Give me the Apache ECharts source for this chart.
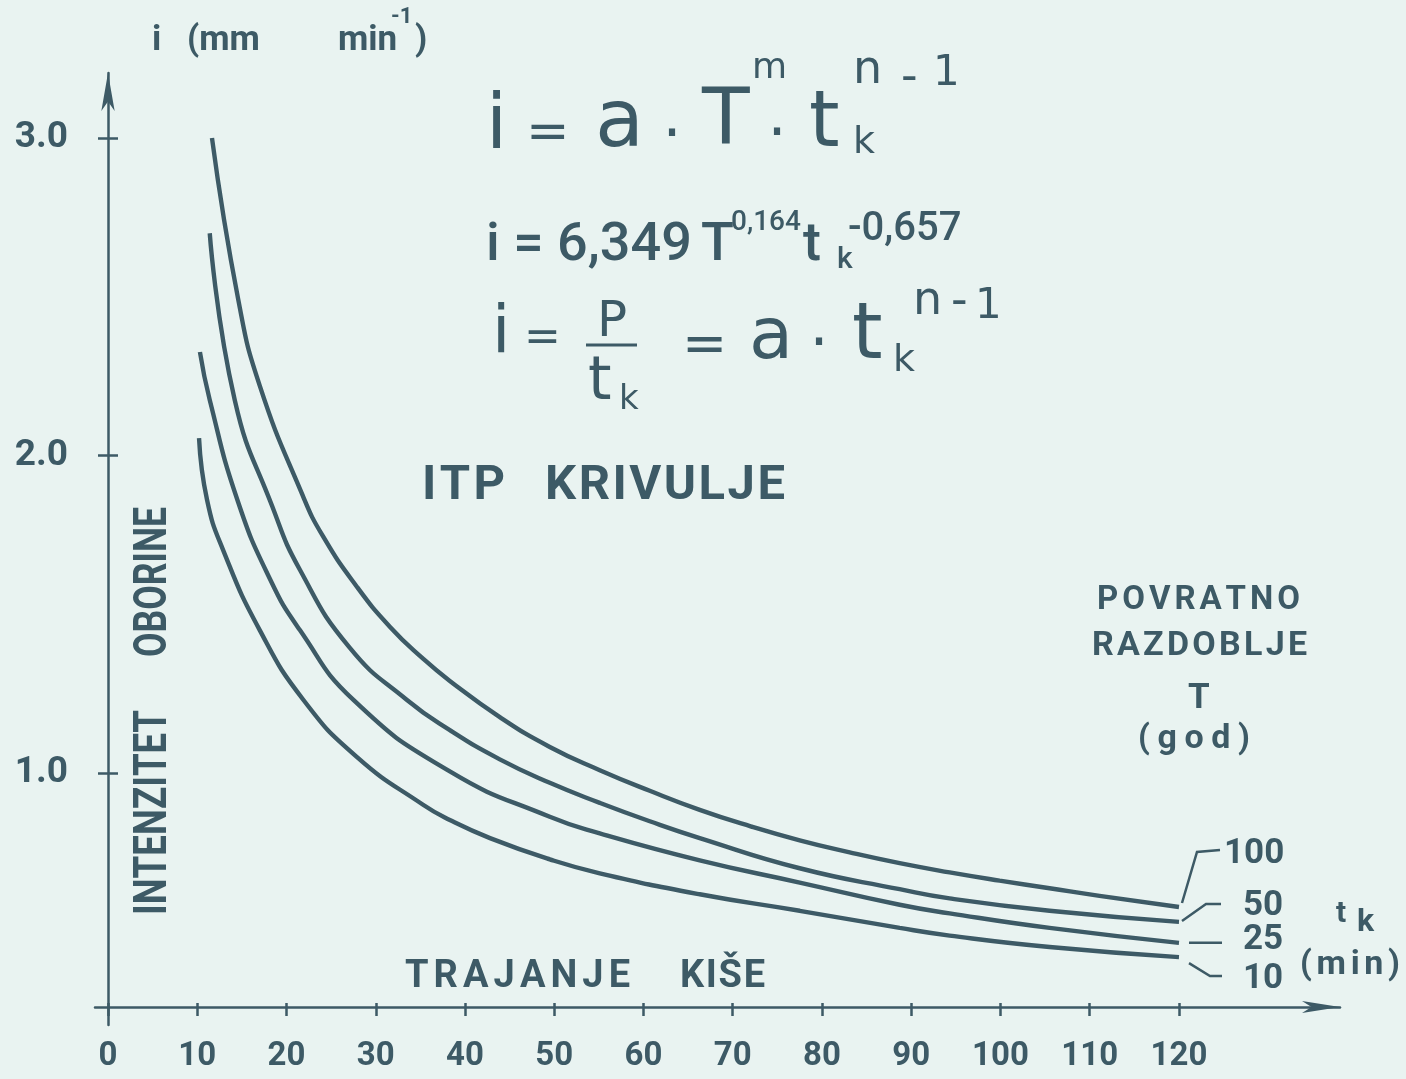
<!DOCTYPE html>
<html><head><meta charset="utf-8">
<script src="https://cdn.jsdelivr.net/npm/echarts@6/dist/echarts.min.js"></script>
<style>html,body{margin:0;padding:0;background:#e9f3f1}#c{width:1406px;height:1079px}</style>
</head><body><div id="c"></div><script>
// ---- data ----
const returnPeriods = ['100', '50', '25', '10'];
const dur100 = [11.65, 14.6, 17.0, 21.8, 24.1, 27.9, 31.6, 35.3, 38.3, 43.9, 49.5, 55.1, 60.7, 66.3, 72.0, 77.5, 83.1, 88.7, 94.3, 99.9, 105.5, 111.1, 120];
const int100 = [3.00, 2.49, 2.22, 1.875, 1.745, 1.586, 1.46, 1.36, 1.29, 1.176, 1.082, 1.009, 0.944, 0.884, 0.832, 0.788, 0.750, 0.716, 0.687, 0.661, 0.637, 0.613, 0.578];
const dur50 = [11.4, 14.2, 18.4, 21.5, 27.1, 33.5, 38.3, 43.9, 49.5, 55.1, 60.7, 66.3, 77.5, 88.7, 94.3, 105.5, 120];
const int50 = [2.70, 2.175, 1.84, 1.64, 1.394, 1.23, 1.135, 1.043, 0.969, 0.906, 0.848, 0.795, 0.70, 0.634, 0.605, 0.566, 0.531];
const dur25 = [10.3, 11.4, 14.5, 18.2, 21.5, 27.5, 38.3, 49.5, 55.1, 66.3, 77.5, 88.7, 94.3, 105.5, 120];
const int25 = [2.326, 2.175, 1.86, 1.608, 1.45, 1.23, 1.005, 0.862, 0.81, 0.725, 0.655, 0.585, 0.558, 0.512, 0.465];
const dur10 = [10.2, 11.1, 12.9, 17.0, 21.9, 27.9, 35.3, 38.3, 42.8, 49.5, 55.1, 66.3, 77.5, 88.7, 94.3, 105.5, 120];
const int10 = [2.055, 1.86, 1.702, 1.45, 1.23, 1.05, 0.90, 0.852, 0.795, 0.728, 0.684, 0.618, 0.566, 0.512, 0.488, 0.452, 0.42];
const xTickLabels = [0, 10, 20, 30, 40, 50, 60, 70, 80, 90, 100, 110, 120];
const yTickLabels = [1, 2, 3];

const ink = '#3d5a66';
const bg = '#e9f3f1';
const curves = [
  { name: returnPeriods[0], t: dur100, v: int100 },
  { name: returnPeriods[1], t: dur50, v: int50 },
  { name: returnPeriods[2], t: dur25, v: int25 },
  { name: returnPeriods[3], t: dur10, v: int10 }
];

const X_MIN = -1.457, X_MAX = 138.04, Y_MIN = 0.2063, Y_MAX = 3.2047;
const chart = echarts.init(document.getElementById('c'), null, { renderer: 'canvas' });

const tickStyle = { color: ink, width: 2.5 };
const labelFont = { color: ink, fontFamily: 'Roboto', fontWeight: 'bold' };

chart.setOption({
  backgroundColor: bg,
  animation: false,
  grid: { left: 95, right: 66, top: 73, bottom: 54, containLabel: false, outerBoundsMode: 'none' },
  xAxis: [
    { type: 'value', min: X_MIN, max: X_MAX, position: 'bottom', offset: -18,
      axisLine: { onZero: false, lineStyle: { color: ink, width: 2.5 }, symbol: ['none', 'arrow'], symbolSize: [9, 38] },
      axisTick: { customValues: xTickLabels, length: 9, lineStyle: tickStyle },
      axisLabel: Object.assign({ customValues: xTickLabels, margin: 33, fontSize: 33 }, labelFont),
      splitLine: { show: false } },
    { type: 'value', min: X_MIN, max: X_MAX, position: 'bottom', offset: -18,
      axisLine: { show: false, onZero: false },
      axisTick: { customValues: xTickLabels, inside: true, length: 4, lineStyle: tickStyle },
      axisLabel: { show: false }, splitLine: { show: false } }
  ],
  yAxis: [
    { type: 'value', min: Y_MIN, max: Y_MAX, position: 'left',
      axisLine: { onZero: true, lineStyle: { color: ink, width: 2.5 }, symbol: ['none', 'arrow'], symbolSize: [10, 38] },
      axisTick: { customValues: yTickLabels, length: 10, lineStyle: tickStyle },
      axisLabel: Object.assign({ customValues: yTickLabels, margin: 27, fontSize: 37, formatter: v => v.toFixed(1) }, labelFont),
      splitLine: { show: false } },
    { type: 'value', min: Y_MIN, max: Y_MAX, position: 'left',
      axisLine: { show: true, onZero: true, lineStyle: { color: ink, width: 0.01, opacity: 0 } },
      axisTick: { customValues: yTickLabels, inside: true, length: 10, lineStyle: tickStyle },
      axisLabel: { show: false }, splitLine: { show: false } }
  ],
  series: curves.map(c => ({
    type: 'line', name: c.name, xAxisIndex: 0, yAxisIndex: 0,
    data: c.t.map((t, k) => [t, c.v[k]]),
    smooth: 0.5, showSymbol: false, silent: true, z: 5,
    lineStyle: { color: ink, width: 4.4 }
  }))
});

// ---- text helpers ----
const mctx = document.createElement('canvas').getContext('2d');
function fnt(size, o) { return (o.weight || 'bold') + ' ' + size + 'px ' + (o.family || 'Roboto'); }
function txtEl(s, x, y, size, o) {
  return { type: 'text', x: x, y: y, silent: true, z: 20,
    style: { text: s, font: fnt(size, o), fill: o.color || ink,
      align: o.align || 'left', textAlign: o.align || 'left',
      verticalAlign: 'middle', textVerticalAlign: 'middle' } };
}
function T(s, x, base, size, o) { o = o || {}; return txtEl(s, x, base - 0.295 * size, size, o); }
function M(s, x, ymid, size, o) { o = o || {}; return txtEl(s, x, ymid, size, o); }
function S(s, x, base, size, target, o) {
  o = o || {};
  mctx.font = fnt(size, o);
  const chars = Array.from(s);
  const ws = chars.map(ch => mctx.measureText(ch).width);
  const nat = ws.reduce((a, b) => a + b, 0);
  let gap = 0, sc = 1;
  if (chars.length > 1 && target > nat) gap = (target - nat) / (chars.length - 1);
  else sc = target / nat;
  const children = [];
  let cx = 0;
  chars.forEach((ch, k) => {
    children.push(txtEl(ch, cx, -0.295 * size, size, o));
    cx += ws[k] + gap;
  });
  return { type: 'group', x: x, y: base, rotation: o.rotation || 0, scaleX: sc, children: children };
}

const hand = { family: '"DejaVu Sans"', weight: 'normal' };
const handC = { family: '"DejaVu Sans"', weight: 'normal', align: 'center' };
const med = { weight: '500' };
const g = [];
// y-axis title
g.push(T('i', 152, 52, 35), T('(mm', 187, 52, 35), T('min', 338, 52, 35), T('-1', 391, 24, 22), T(')', 415, 52, 35));
// formula 1 (handwritten)
g.push(T('i', 486, 151, 76, hand), M('=', 526, 134, 52, hand), T('a', 595, 149, 80, hand),
  M('·', 672, 137, 60, handC), T('T', 702, 147, 78, hand),
  T('m', 752, 79, 36, hand), M('·', 777, 136, 60, handC),
  T('t', 809, 149, 78, hand), T('k', 853, 154, 38, hand),
  T('n', 853, 85, 46, hand), M('-', 901, 79, 46, hand), T('1', 933, 86, 42, hand));
// formula 2
g.push(T('i = 6,349', 486, 262, 54, med), T('T', 701, 262, 54, med), T('0,164', 731, 231, 28, med),
  T('t', 803, 262, 54, med), T('k', 837, 269, 30, med), T('-0,657', 848, 242, 40, med));
// formula 3
g.push(T('i', 492, 354, 66, hand), M('=', 524, 340, 44, hand), T('P', 597, 338, 50, hand),
  { type: 'line', silent: true, z: 20, shape: { x1: 586, y1: 345, x2: 637, y2: 345 }, style: { stroke: ink, lineWidth: 3 } },
  T('t', 588, 401, 60, hand), T('k', 619, 410, 34, hand),
  M('=', 682, 347, 54, hand), T('a', 749, 361, 72, hand),
  M('·', 819, 346, 60, handC),
  T('t', 852, 361, 78, hand), T('k', 893, 372, 38, hand),
  T('n', 913, 316, 46, hand), M('-', 951, 303, 46, hand), T('1', 975, 319, 42, hand));
// titles
g.push(S('ITP', 422, 501, 49, 83), S('KRIVULJE', 545, 501, 49, 240));
g.push(S('TRAJANJE', 405, 989, 38, 225), S('KIŠE', 680, 989, 38, 85));
g.push(S('INTENZITET', 168, 915, 46, 205, { rotation: Math.PI / 2 }), S('OBORINE', 168, 657, 46, 150, { rotation: Math.PI / 2 }));
g.push(S('POVRATNO', 1097, 610, 33, 203), S('RAZDOBLJE', 1092, 657, 34, 215), T('T', 1188, 710, 35), S('(god)', 1138, 750, 34, 112));
g.push(T('t', 1336, 923, 30), T('k', 1357, 932, 32), S('(min)', 1300, 976, 34, 100));

// leader lines and period labels, anchored at the curve ends
const ends = curves.map(c => chart.convertToPixel({ xAxisIndex: 0, yAxisIndex: 0 }, [c.t[c.t.length - 1], c.v[c.v.length - 1]]));
const lead = [
  [[3, -4], [1197, 852], [1220, 850]],
  [[3, -1], [1206, 904], [1221, 904]],
  [[10, 0], [1222, null]],
  [[10, 6], [1210, 976], [1222, 976]]
];
const labX = [1224, 1243, 1243, 1243], labBase = [865, 917, 951, 990];
lead.forEach((pts, k) => {
  const e = ends[k];
  const p = pts.map((q, j) => j === 0 ? [e[0] + q[0], e[1] + q[1]] : [q[0], q[1] === null ? e[1] : q[1]]);
  g.push({ type: 'polyline', silent: true, z: 20, shape: { points: p }, style: { stroke: ink, lineWidth: 2.5, fill: null } });
  g.push(T(returnPeriods[k], labX[k], labBase[k], 35));
});

chart.setOption({ graphic: g });
</script></body></html>
